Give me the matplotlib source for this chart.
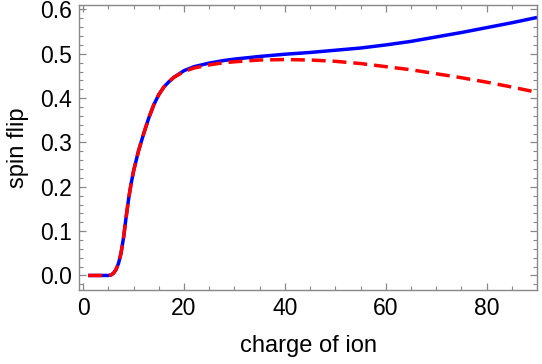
import matplotlib.pyplot as plt
from matplotlib.ticker import MultipleLocator

plt.rcParams['font.family'] = ['Liberation Sans', 'DejaVu Sans']

# values
charge = [1, 2, 3, 4, 5, 5.5, 6, 6.5, 7, 7.5, 8, 8.5, 9, 9.5, 10, 11, 12, 13, 14,
          15, 16, 17, 18, 20, 22, 25, 28, 30, 35, 40, 45, 50, 55, 60, 65, 70,
          75, 80, 85, 90]
rise = [0.0, 0.0, 0.0, 0.0, 0.0, 0.001, 0.005, 0.013, 0.027, 0.05, 0.085, 0.13,
        0.172, 0.207, 0.236, 0.282, 0.32, 0.355, 0.385, 0.408, 0.425, 0.437, 0.447]
flip_full = rise + [0.462, 0.471, 0.479, 0.485, 0.488, 0.494, 0.499, 0.503,
                    0.508, 0.513, 0.520, 0.528, 0.538, 0.548, 0.559, 0.570, 0.582]
flip_approx = rise + [0.460, 0.468, 0.475, 0.480, 0.482, 0.486, 0.487, 0.486,
                      0.483, 0.478, 0.471, 0.464, 0.455, 0.446, 0.436, 0.425, 0.413]

fig = plt.figure(figsize=(5.42, 3.64), dpi=100)
ax = fig.add_axes([0.146, 0.203, 0.845, 0.782])

ax.plot(charge, flip_full, color='#0000ff', lw=2.5, solid_capstyle='butt')
ax.plot(charge, flip_approx, color='#ff0000', lw=2.5, dashes=(4, 2))

ax.set_xlim(-0.8, 90)
ax.set_ylim(-0.033, 0.609)
ax.xaxis.set_major_locator(MultipleLocator(20))
ax.xaxis.set_minor_locator(MultipleLocator(5))
ax.yaxis.set_major_locator(MultipleLocator(0.1))
ax.yaxis.set_minor_locator(MultipleLocator(0.02))
ax.yaxis.set_major_formatter(plt.FormatStrFormatter('%.1f'))

for s in ax.spines.values():
    s.set_color('#888888')
    s.set_linewidth(1.0)
ax.tick_params(which='both', direction='in', top=True, right=True,
               color='#888888', labelsize=16.5)
ax.tick_params(which='major', length=5, width=0.9, pad=5)
ax.tick_params(which='minor', length=3, width=0.8)

ax.set_xlabel('charge of ion', fontsize=17, labelpad=11)
ax.set_ylabel('spin flip', fontsize=17, labelpad=8)

fig.savefig('out.png', dpi=100)
